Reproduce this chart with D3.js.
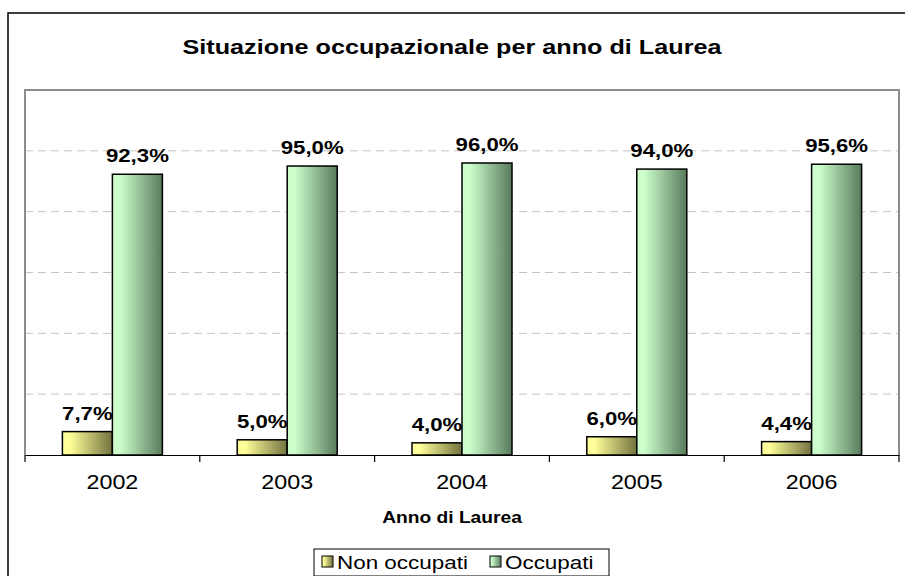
<!DOCTYPE html>
<html><head><meta charset="utf-8">
<script src="https://cdn.jsdelivr.net/npm/d3@7"></script>
<style>body{margin:0;background:#fff}svg{display:block}text{font-family:"Liberation Sans",Arial,sans-serif}</style>
</head><body>
<script>
const years = ["2002","2003","2004","2005","2006"];
const seriesNames = ["Non occupati","Occupati"];
const nonOccupati = [7.7, 5.0, 4.0, 6.0, 4.4];
const occupati = [92.3, 95.0, 96.0, 94.0, 95.6];
const yTicks = [20, 40, 60, 80, 100, 120];
const title = "Situazione occupazionale per anno di Laurea";
const xTitle = "Anno di Laurea";

const W = 905, H = 576, SX = 1.2;
const svg = d3.select("body").append("svg").attr("width", W).attr("height", H);
const defs = svg.append("defs");
function grad(id, c1, c2) {
  const g = defs.append("linearGradient").attr("id", id).attr("x1", 0).attr("x2", 1).attr("y1", 0).attr("y2", 0);
  g.append("stop").attr("offset", 0).attr("stop-color", c1);
  g.append("stop").attr("offset", 0.15).attr("stop-color", c1);
  g.append("stop").attr("offset", 1).attr("stop-color", c2);
}
grad("gY", "#ffff99", "#727240");
grad("gG", "#ccffcc", "#587a5c");
const fills = ["url(#gY)", "url(#gG)"];

function stext(parent, x, y, str, size, weight, anchor) {
  return parent.append("g").attr("transform", `translate(${x},${y}) scale(${SX},1)`)
    .append("text").attr("text-anchor", anchor || "middle").attr("font-size", size)
    .attr("font-weight", weight || "normal").attr("fill", "#000").text(str);
}

// outer chart border
svg.append("rect").attr("x", 8).attr("y", 13).attr("width", W + 10).attr("height", H + 10)
  .attr("fill", "none").attr("stroke", "#000").attr("stroke-width", 1.5);

stext(svg, 452, 54, title, 21, "bold");

const L = 25, R = 899, T = 90, B = 455;
const x = d3.scaleBand().domain(years).range([L, R]).padding(0);
const xs = d3.scaleBand().domain(seriesNames).range([37.4, 137.4]).padding(0);
const y = d3.scaleLinear().domain([0, 120]).range([B, T]);

// gridlines
svg.append("g").selectAll("line").data(yTicks.filter(d => d < 120)).join("line")
  .attr("x1", L).attr("x2", R).attr("y1", d => y(d)).attr("y2", d => y(d))
  .attr("stroke", "#c4c4c4").attr("stroke-width", 1).attr("stroke-dasharray", "8,5");

// plot area border
svg.append("path").attr("d", `M${L},${B}V${y(120)}H${R}V${B}`)
  .attr("fill", "none").attr("stroke", "#8c8c8c").attr("stroke-width", 2);

const series = [nonOccupati, occupati];
const gBars = svg.append("g");
series.forEach((vals, si) => {
  gBars.append("g").selectAll("rect").data(vals).join("rect")
    .attr("x", (d, i) => x(years[i]) + xs(seriesNames[si]))
    .attr("y", d => y(d))
    .attr("width", xs.bandwidth())
    .attr("height", d => B - y(d))
    .attr("fill", fills[si]).attr("stroke", "#000").attr("stroke-width", 1.5);
});
series.forEach((vals, si) => {
  vals.forEach((d, i) => {
    stext(svg, x(years[i]) + xs(seriesNames[si]) + xs.bandwidth() / 2, y(d) - 12,
      d.toFixed(1).replace(".", ",") + "%", 18.5, "bold");
  });
});

// x axis
const ax = svg.append("g").attr("transform", `translate(0,${B})`)
  .call(d3.axisBottom(x).tickSize(0).tickFormat(() => ""));
ax.select(".domain").attr("stroke", "#000").attr("stroke-width", 1.2);
svg.append("g").selectAll("line").data(years.map(d => x(d)).concat([R])).join("line")
  .attr("x1", d => d).attr("x2", d => d).attr("y1", B).attr("y2", B + 7)
  .attr("stroke", "#000").attr("stroke-width", 1.2);
years.forEach(d => stext(svg, x(d) + x.bandwidth() / 2, 489, d, 19.4));
stext(svg, 452, 523, xTitle, 16, "bold");

// legend
svg.append("rect").attr("x", 314).attr("y", 549).attr("width", 295).attr("height", 27)
  .attr("fill", "#fff").attr("stroke", "#000").attr("stroke-width", 1);
const legX = [322, 490];
seriesNames.forEach((s, i) => {
  svg.append("rect").attr("x", legX[i]).attr("y", 556).attr("width", 11).attr("height", 11)
    .attr("fill", fills[i]).attr("stroke", "#000").attr("stroke-width", 1);
  stext(svg, legX[i] + 15, 569, s, 18.7, "normal", "start");
});
</script>
</body></html>
